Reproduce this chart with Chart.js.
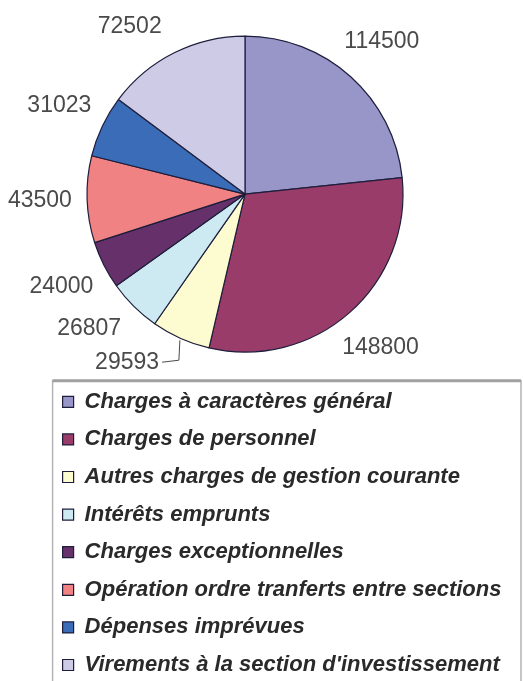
<!DOCTYPE html>
<html>
<head>
<meta charset="utf-8">
<script src="https://cdn.jsdelivr.net/npm/chart.js@4/dist/chart.umd.min.js"></script>
<style>
  html, body { margin: 0; padding: 0; background: #fff; }
  canvas { display: block; }
</style>
</head>
<body>
<canvas id="myChart" width="523" height="681"></canvas>
<script>
'use strict';

const categories = [
  'Charges à caractères général',
  'Charges de personnel',
  'Autres charges de gestion courante',
  'Intérêts emprunts',
  'Charges exceptionnelles',
  'Opération ordre tranferts entre sections',
  'Dépenses imprévues',
  'Virements à la section d\'investissement'
];
const amounts = [114500, 148800, 29593, 26807, 24000, 43500, 31023, 72502];

const sliceColors = ['#9896c8', '#9a3c6a', '#fdfbd0', '#cdeaf3', '#66316a', '#f08284', '#3a6cb8', '#cecbe7'];

// pie sits left of the middle, legend keeps the full width
const shiftPie = {
  id: 'shiftPie',
  afterLayout(chart, args, opts) {
    chart.chartArea.right -= opts.cut;
    chart.chartArea.width -= opts.cut;
  }
};

// value labels outside the pie, like the old spreadsheet chart
const outsideLabels = {
  id: 'outsideLabels',
  afterDatasetsDraw(chart, args, opts) {
    const ctx = chart.ctx;
    const meta = chart.getDatasetMeta(0);
    const values = chart.data.datasets[0].data;
    ctx.save();
    ctx.font = opts.font;
    ctx.fillStyle = opts.color;
    ctx.textAlign = 'center';
    ctx.textBaseline = 'middle';
    meta.data.forEach((arc, i) => {
      const p = arc.getProps(['x', 'y', 'startAngle', 'endAngle', 'outerRadius'], true);
      const mid = (p.startAngle + p.endAngle) / 2;
      const dx = Math.cos(mid);
      const dy = Math.sin(mid);
      const txt = String(values[i]);
      const w = ctx.measureText(txt).width;
      const h = opts.size * 0.75;
      const off = opts.gap + Math.abs(dx) * w / 2 + Math.abs(dy) * h / 2;
      let tx = p.x + (p.outerRadius + off) * dx;
      let ty = p.y + (p.outerRadius + off) * dy;
      const nudge = opts.nudge[i];
      if (nudge) {
        tx += nudge[0];
        ty += nudge[1];
      }
      ctx.fillText(txt, tx, ty);
      if (opts.leader.includes(i)) {
        // little bent line from the slice to the moved label
        const sx = p.x + (p.outerRadius + 2) * dx;
        const sy = p.y + (p.outerRadius + 2) * dy;
        ctx.beginPath();
        ctx.strokeStyle = opts.color;
        ctx.lineWidth = 1;
        ctx.moveTo(sx, sy);
        ctx.lineTo(sx - 1, ty - 2);
        ctx.lineTo(tx + w / 2 + 3, ty);
        ctx.stroke();
      }
    });
    ctx.restore();
  }
};

// frame round the legend
const legendFrame = {
  id: 'legendFrame',
  afterDraw(chart) {
    const lg = chart.legend;
    const ctx = chart.ctx;
    const left = lg.left + 5.6;
    const right = chart.width - 2;
    const top = lg.top + 5.6;
    ctx.save();
    ctx.strokeStyle = '#b4b4b4';
    ctx.lineWidth = 1.5;
    ctx.beginPath();
    ctx.moveTo(left, chart.height);
    ctx.lineTo(left, top);
    ctx.lineTo(right, top);
    ctx.lineTo(right, chart.height);
    ctx.stroke();
    ctx.strokeStyle = '#a0a0a0';
    ctx.lineWidth = 3;
    ctx.beginPath();
    ctx.moveTo(left, top);
    ctx.lineTo(right, top);
    ctx.stroke();
    ctx.restore();
  }
};

const ctx = document.getElementById('myChart').getContext('2d');
const chart = new Chart(ctx, {
  type: 'pie',
  data: {
    labels: categories,
    datasets: [{
      data: amounts,
      backgroundColor: sliceColors,
      borderColor: '#1e1e3c',
      borderWidth: 1.2,
      radius: 158
    }]
  },
  options: {
    responsive: false,
    animation: false,
    layout: {
      padding: { left: 47, right: 0, top: 13, bottom: -5 }
    },
    plugins: {
      tooltip: { enabled: false },
      legend: {
        position: 'bottom',
        align: 'start',
        labels: {
          boxWidth: 11,
          boxHeight: 11,
          padding: 15.6,
          color: '#2a2a2a',
          font: { family: 'Liberation Sans, Arial, sans-serif', size: 22, style: 'italic', weight: 'bold' }
        }
      },
      shiftPie: { cut: 80 },
      outsideLabels: {
        font: '23px "Liberation Sans", Arial, sans-serif',
        size: 23,
        color: '#4a4a4a',
        gap: 15,
        nudge: { 2: [-39, -9], 3: [-14, -9], 7: [-28, 7] },
        leader: [2]
      }
    }
  },
  plugins: [shiftPie, outsideLabels, legendFrame]
});
</script>
</body>
</html>
